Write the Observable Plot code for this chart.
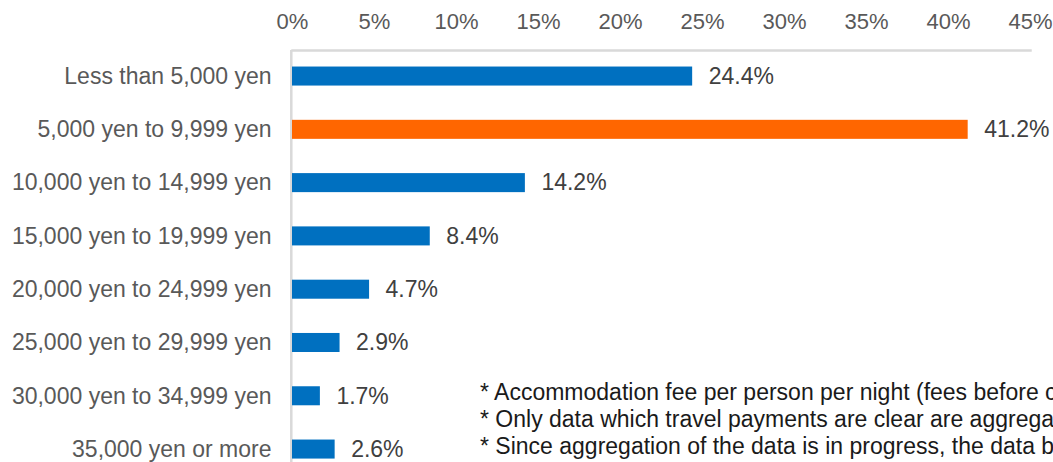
<!DOCTYPE html>
<html>
<head>
<meta charset="utf-8">
<script src="https://cdn.jsdelivr.net/npm/d3@7"></script>
<script src="https://cdn.jsdelivr.net/npm/@observablehq/plot@0.6"></script>
<style>
  html, body { margin: 0; padding: 0; background: #fff; overflow: hidden; }
  #wrap { position: relative; width: 1053px; height: 462px; overflow: hidden; font-family: "Liberation Sans", Arial, sans-serif; }
  #notes { position: absolute; left: 480px; top: 379px; font-size: 23px; line-height: 27px; color: #1a1a1a; white-space: nowrap; }
</style>
</head>
<body>
<div id="wrap">
  <div id="chart"></div>
  <div id="notes">
    <div>* Accommodation fee per person per night (fees before consumption tax)</div>
    <div>* Only data which travel payments are clear are aggregated</div>
    <div>* Since aggregation of the data is in progress, the data below may change</div>
  </div>
</div>
<script>
const categories = [
  "Less than 5,000 yen",
  "5,000 yen to 9,999 yen",
  "10,000 yen to 14,999 yen",
  "15,000 yen to 19,999 yen",
  "20,000 yen to 24,999 yen",
  "25,000 yen to 29,999 yen",
  "30,000 yen to 34,999 yen",
  "35,000 yen or more"
];
const shares = [24.4, 41.2, 14.2, 8.4, 4.7, 2.9, 1.7, 2.6];
const xTicks = [0, 5, 10, 15, 20, 25, 30, 35, 40, 45];
const highlighted = "5,000 yen to 9,999 yen";

const data = categories.map((c, i) => ({category: c, share: shares[i]}));

const chart = Plot.plot({
  width: 1053,
  height: 462,
  marginTop: 50,
  marginLeft: 292,
  marginRight: 23,
  marginBottom: 0,
  style: {fontFamily: "'Liberation Sans', Arial, sans-serif", background: "#fff"},
  x: {domain: [0, 45]},
  y: {domain: categories, range: [49.4, 475.7], paddingInner: 0.643, paddingOuter: 0.3215, round: false},
  marks: [
    Plot.frame({anchor: "top", stroke: "#d9d9d9", strokeWidth: 2.5, strokeOpacity: 1}),
    Plot.ruleX([0], {stroke: "#d9d9d9", strokeWidth: 2.5, dx: -1.2}),
    Plot.barX(data, {
      x: "share",
      y: "category",
      fill: d => d.category === highlighted ? "#FF6600" : "#0070C0"
    }),
    Plot.text(data, {
      x: "share",
      y: "category",
      text: d => d.share.toFixed(1) + "%",
      textAnchor: "start",
      dx: 16,
      fontSize: 23,
      fill: "#404040"
    }),
    Plot.axisX({
      anchor: "top",
      ticks: xTicks,
      tickFormat: d => d + "%",
      tickSize: 0,
      tickPadding: 22,
      fontSize: 22,
      fill: "#595959",
      label: null
    }),
    Plot.axisY({
      tickSize: 0,
      tickPadding: 21,
      fontSize: 23,
      fill: "#595959",
      label: null
    })
  ],
  color: {type: "identity"}
});
document.getElementById("chart").appendChild(chart);
</script>
</body>
</html>
